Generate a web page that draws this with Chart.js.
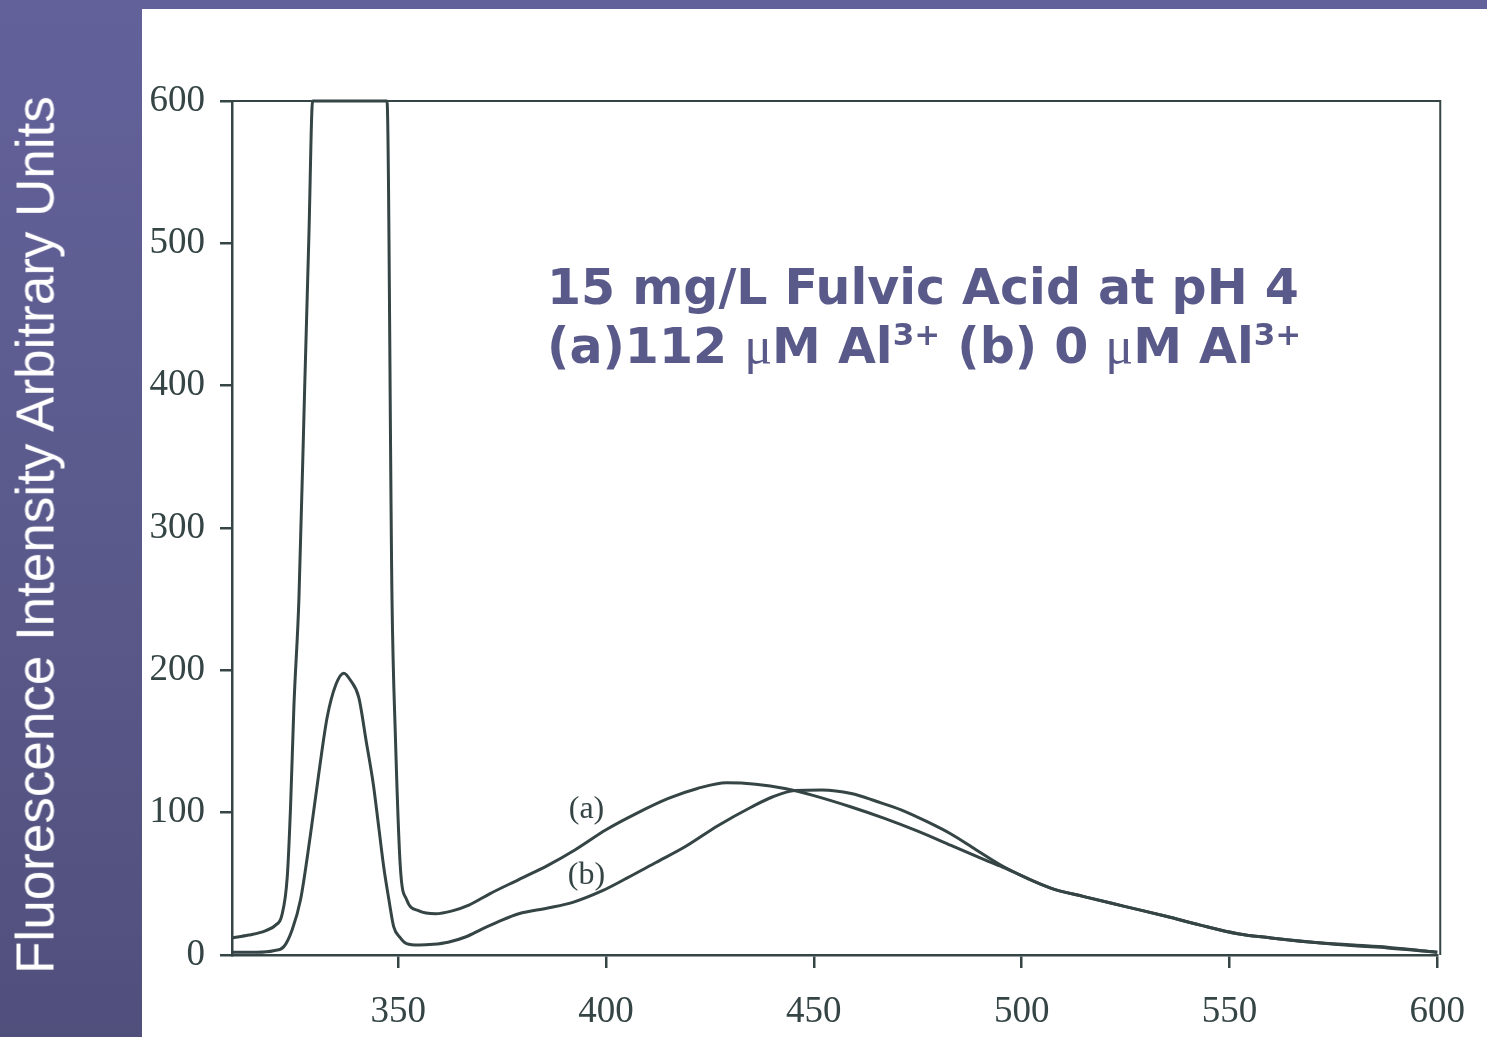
<!DOCTYPE html>
<html>
<head>
<meta charset="utf-8">
<script src="https://cdn.jsdelivr.net/npm/chart.js@4.4.0/dist/chart.umd.min.js"></script>
<style>
    html, body { margin: 0; padding: 0; }
    body {
        width: 1487px; height: 1037px; position: relative; overflow: hidden;
        background: linear-gradient(180deg, #63619a 0%, #5b5a8c 50%, #504f7c 100%);
    }
    #sheet { position: absolute; left: 142px; top: 9px; width: 1345px; height: 1028px; background: #fff; }
    #chart { position: absolute; left: 0; top: 0; }
    #ylabel {
        position: absolute; left: 35px; top: 535px;
        transform: translate(-50%, -50%) rotate(-90deg);
        white-space: nowrap; color: #fff;
        font-family: "Liberation Sans", Arial, sans-serif; font-size: 53px;
    }
    #title {
        position: absolute; left: 547px; top: 259px;
        font-family: "DejaVu Sans", Verdana, sans-serif; font-weight: bold;
        font-size: 49px; line-height: 58px; color: #5a5a8a; white-space: nowrap;
    }
    #title .mu { font-family: "Liberation Serif", serif; font-weight: normal; font-size: 52px; }
    #title sup { font-size: 31px; line-height: 0; vertical-align: 18px; }
</style>
</head>
<body>
<div id="sheet"></div>
<canvas id="chart" width="1487" height="1037"></canvas>
<div id="ylabel">Fluorescence Intensity Arbitrary Units</div>
<div id="title">15 mg/L Fulvic Acid at pH 4<br>(a)112 <span class="mu">μ</span>M Al<sup>3+</sup> (b) 0 <span class="mu">μ</span>M Al<sup>3+</sup></div>

<script>
// wavelength (nm) / intensity
const wavelengthA = [310, 314, 318, 320.5, 322, 323.3, 324.1, 324.9, 326.1, 327.5, 328.5, 329.4,
    347.3, 348.5, 349.3, 350.5, 352, 355, 359, 363, 367, 372, 379, 386, 392.6, 400, 407, 415,
    422, 429, 436, 443, 450, 459, 467, 475, 483, 491, 496, 507, 515, 525, 535, 543, 552, 560,
    570, 580, 588, 598, 600];
const intensityA = [12, 14, 17, 21, 28, 55, 105, 175, 250, 400, 505, 600,
    600, 250, 155, 62, 39, 31, 29, 31, 35, 43, 53, 63, 74, 88, 99, 110,
    117, 121, 120, 117, 112, 104, 96, 87, 77, 67, 61, 47, 41, 34, 27, 21, 15, 12,
    9, 7, 5.5, 2.5, 2];

const wavelengthB = [310, 316, 320, 322.5, 324.5, 326.5, 328.9, 331, 332.9, 335, 336.9, 338.5,
    340.5, 342.3, 344, 345.3, 346.5, 347.8, 348.9, 350.5, 352, 355, 358.4, 362, 366.5, 370,
    374.5, 379, 386, 392, 399, 405, 412, 419, 427, 435, 440, 445.4, 452, 459, 465, 471, 477,
    483, 489, 495.7, 507, 515, 525, 535, 543, 552, 560, 570, 580, 588, 598, 600];
const intensityB = [2, 2, 3, 6, 18, 39, 85, 130, 167, 190, 198, 193,
    181, 150, 120, 90, 62, 38, 20, 12, 8, 7, 7.5, 9, 13, 18,
    24, 29, 33, 37, 45, 54, 65, 76, 91, 104, 111, 115.6, 116, 113.5, 108, 102, 94,
    85, 74, 62, 47, 41, 34, 27, 21, 15, 12, 9, 6.5, 5, 2.5, 2];

const xTicks = [350, 400, 450, 500, 550, 600];
const yTicks = [0, 100, 200, 300, 400, 500, 600];

const curveNames = ['(a)', '(b)'];
const curveNameX = [395.3, 395.3];
const curveNameY = [102, 56];

const ink = '#354444';

function toPoints(xs, ys) {
    return xs.map((x, i) => ({ x: x, y: ys[i] }));
}

const framePlugin = {
    id: 'frame',
    afterDraw(chart) {
        const { ctx, chartArea } = chart;
        const { left, right, top, bottom } = chartArea;
        ctx.save();
        ctx.strokeStyle = ink;
        ctx.lineWidth = 2;
        ctx.beginPath();
        ctx.moveTo(left - 8, top);
        ctx.lineTo(right + 3, top);
        ctx.lineTo(right + 3, bottom);
        ctx.moveTo(left - 12, bottom);
        ctx.lineTo(left, bottom);
        ctx.stroke();

        // curve names
        const xs = chart.scales.x, ys = chart.scales.y;
        ctx.fillStyle = ink;
        ctx.font = '32px "Liberation Serif", serif';
        ctx.textAlign = 'center';
        ctx.textBaseline = 'middle';
        curveNames.forEach((name, i) => {
            ctx.fillText(name, xs.getPixelForValue(curveNameX[i]), ys.getPixelForValue(curveNameY[i]));
        });
        ctx.restore();
    }
};

new Chart(document.getElementById('chart').getContext('2d'), {
    type: 'line',
    data: {
        datasets: [{
            label: '(a) 112 µM Al3+',
            data: toPoints(wavelengthA, intensityA),
            borderColor: ink,
            borderWidth: 3,
            pointRadius: 0,
            cubicInterpolationMode: 'monotone',
            clip: 4
        }, {
            label: '(b) 0 µM Al3+',
            data: toPoints(wavelengthB, intensityB),
            borderColor: ink,
            borderWidth: 3,
            pointRadius: 0,
            cubicInterpolationMode: 'monotone',
            clip: 4
        }]
    },
    options: {
        responsive: false,
        animation: false,
        layout: { padding: { left: 0, top: 101, right: 44, bottom: 0 } },
        plugins: {
            legend: { display: false },
            tooltip: { enabled: false }
        },
        scales: {
            x: {
                type: 'linear',
                min: 310,
                max: 600,
                afterBuildTicks: (scale) => { scale.ticks = xTicks.map(v => ({ value: v })); },
                afterFit: (scale) => { scale.height = 82; },
                grid: { drawOnChartArea: false, tickLength: 13, color: ink, lineWidth: 2.5 },
                border: { display: true, color: ink, width: 2.5 },
                ticks: {
                    padding: 22,
                    color: ink,
                    font: { family: '"Liberation Serif", serif', size: 37 },
                    maxRotation: 0
                }
            },
            y: {
                min: 0,
                max: 600,
                afterBuildTicks: (scale) => { scale.ticks = yTicks.map(v => ({ value: v })); },
                afterFit: (scale) => { scale.width = 232; },
                grid: { drawOnChartArea: false, tickLength: 12, color: ink, lineWidth: 2.5 },
                border: { display: true, color: ink, width: 2.5 },
                ticks: {
                    padding: 15,
                    color: ink,
                    font: { family: '"Liberation Serif", serif', size: 37 }
                }
            }
        }
    },
    plugins: [framePlugin]
});
</script>
</body>
</html>
